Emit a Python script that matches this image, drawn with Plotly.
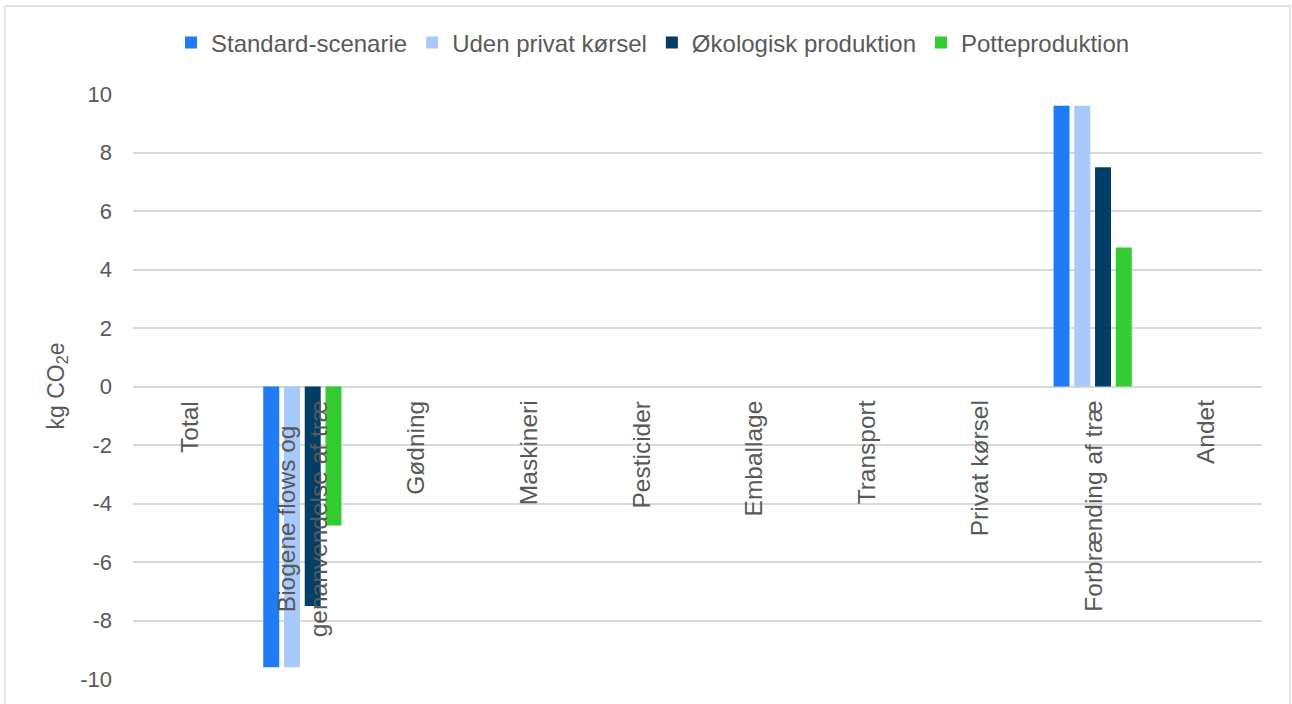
import plotly.graph_objects as go

categories = ["Total", "Biogene flows og<br>genanvendelse af træ", "Gødning", "Maskineri",
              "Pesticider", "Emballage", "Transport", "Privat kørsel",
              "Forbrænding af træ", "Andet"]
series_names = ["Standard-scenarie", "Uden privat kørsel", "Økologisk produktion", "Potteproduktion"]
standard = [0, -9.6, 0, 0, 0, 0, 0, 0, 9.6, 0]
uden_privat = [0, -9.6, 0, 0, 0, 0, 0, 0, 9.6, 0]
oekologisk = [0, -7.5, 0, 0, 0, 0, 0, 0, 7.5, 0]
potte = [0, -4.75, 0, 0, 0, 0, 0, 0, 4.75, 0]
colors = ["#1F7BF6", "#A7CAFA", "#023E66", "#33CC33"]
y_ticks = [-10, -8, -6, -4, -2, 0, 2, 4, 6, 8, 10]
y_ticktext = [str(v) for v in y_ticks]

FONT = "Liberation Sans, Arial, sans-serif"
GRAY = "#595959"

fig = go.Figure()
for name, vals, col in zip(series_names, [standard, uden_privat, oekologisk, potte], colors):
    fig.add_trace(go.Bar(x=categories, y=vals, name=name, marker=dict(color=col, line=dict(width=0))))

for cat in categories:
    fig.add_annotation(x=cat, y=0, xref="x", yref="y", text=cat, textangle=-90,
                       showarrow=False, xanchor="center", yanchor="top", yshift=-12,
                       align="center", font=dict(family=FONT, size=24.5, color=GRAY))

L, R, T, B = 133, 30, 94, 25
W, H = 1292, 704
pw, ph = W - L - R, H - T - B

def px_x(p):
    return (p - L) / pw

def px_y(p):
    return (H - B - p) / ph

fig.add_annotation(x=px_x(57), y=0.5, xref="paper", yref="paper", text="kg CO<sub>2</sub>e",
                   textangle=-90, showarrow=False, xanchor="center", yanchor="middle",
                   font=dict(family=FONT, size=23, color=GRAY))

fig.add_shape(type="rect", xref="paper", yref="paper", x0=px_x(5), x1=px_x(1290),
              y0=px_y(730), y1=px_y(6), line=dict(color="#D9D9D9", width=1.3), layer="below")

fig.update_layout(
    width=W, height=H,
    margin=dict(l=L, r=R, t=T, b=B),
    paper_bgcolor="white", plot_bgcolor="white",
    barmode="group", bargap=0.265, bargroupgap=0.23,
    font=dict(family=FONT, size=22, color=GRAY),
    legend=dict(orientation="h", x=px_x(653), xanchor="center", y=px_y(43), yanchor="middle",
                font=dict(family=FONT, size=24, color=GRAY), itemclick=False,
                bgcolor="rgba(0,0,0,0)"),
    xaxis=dict(showticklabels=False, showgrid=False, zeroline=False, showline=False, ticks=""),
    yaxis=dict(range=[-10, 10], tickvals=y_ticks, ticktext=y_ticktext, showgrid=True,
               gridcolor="#D9D9D9", gridwidth=1.5, zeroline=False, showline=False,
               ticks="", ticklabelstandoff=20, tickfont=dict(family=FONT, size=22, color=GRAY)),
    showlegend=True,
)

fig.write_html("out.html", config={"displayModeBar": False},
               post_script="document.body.style.margin='0';document.body.style.overflow='hidden';")
